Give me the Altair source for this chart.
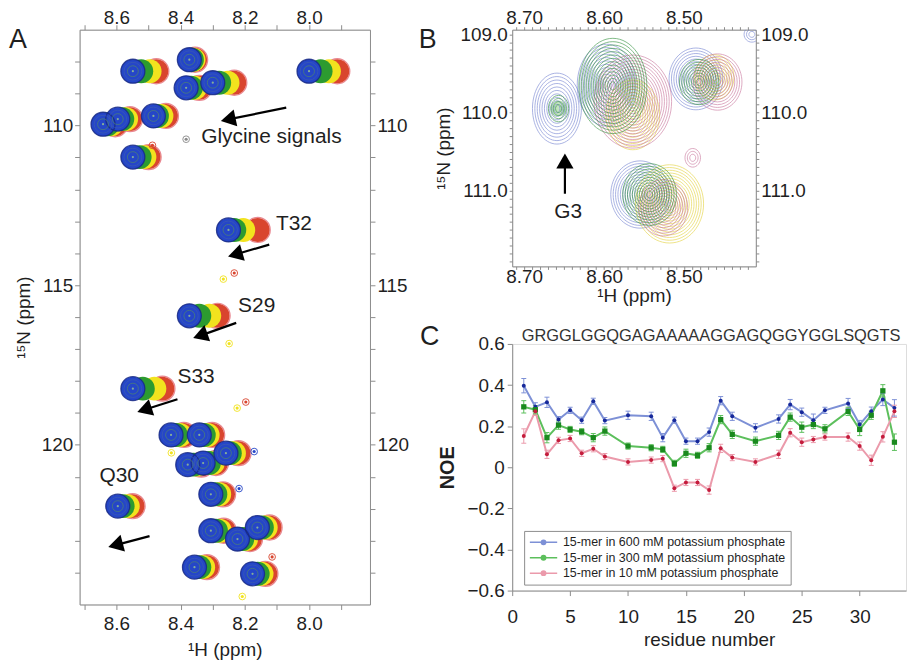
import altair as alt
import pandas as pd

FONT = "Liberation Sans"
TXT = "#1f1f1f"
FRAME = "#8c8c8c"

# ======================= Panel A : HSQC overlay =======================
A_N = [108.30, 107.94, 108.82, 108.66, 108.30, 109.96, 109.80, 109.70, 110.99,
       113.27, 115.96, 118.24, 121.92,
       119.69, 119.69, 120.26, 120.62, 120.57, 121.55, 122.69, 122.95, 122.59, 123.83, 124.04]
A_H_blue = [8.549, 8.373, 8.383, 8.300, 8.000, 8.642, 8.596, 8.485, 8.549,
            8.251, 8.373, 8.549, 8.596,
            8.430, 8.342, 8.259, 8.378, 8.330, 8.306, 8.306, 8.223, 8.161, 8.357, 8.176]
A_H_green = [8.523, 8.365, 8.368, 8.280, 7.964, 8.628, 8.582, 8.474, 8.528,
             8.233, 8.342, 8.518, 8.581,
             8.415, 8.328, 8.247, 8.360, 8.312, 8.292, 8.290, 8.208, 8.147, 8.342, 8.160]
A_H_yellow = [8.497, 8.360, 8.355, 8.254, 7.938, 8.616, 8.570, 8.460, 8.513,
              8.205, 8.311, 8.482, 8.565,
              8.402, 8.316, 8.234, 8.348, 8.300, 8.280, 8.278, 8.196, 8.135, 8.330, 8.148]
A_H_red = [8.476, 8.355, 8.342, 8.233, 7.912, 8.604, 8.558, 8.446, 8.500,
           8.160, 8.285, 8.457, 8.550,
           8.390, 8.302, 8.220, 8.336, 8.290, 8.268, 8.266, 8.184, 8.123, 8.318, 8.136]

A_small_H = [8.197, 8.224, 8.249, 8.115, 8.171, 8.208, 8.383, 8.267, 8.233, 8.488, 8.218, 8.429]
A_small_N = [118.66, 118.85, 116.83, 123.51, 120.21, 124.75, 110.43, 114.81, 114.62, 110.62, 121.37, 120.25]
A_small_cond = ["red", "yellow", "yellow", "red", "blue", "yellow", "gray", "yellow", "red", "red", "blue", "yellow"]

A_label_text = ["Glycine signals", "T32", "S29", "S33", "Q30"]
A_label_H = [8.336, 8.103, 8.221, 8.410, 8.653]
A_label_N = [110.37, 113.10, 115.65, 117.89, 120.99]

A_arrow_tail_H = [8.071, 8.124, 8.227, 8.410, 8.497]
A_arrow_tail_N = [109.44, 113.73, 116.18, 118.57, 122.86]
A_arrow_head_H = [8.252, 8.230, 8.339, 8.513, 8.603]
A_arrow_head_N = [109.81, 114.04, 116.58, 118.90, 123.14]
A_arrow_angle = [258, 254, 251, 252, 255]

A_xticks = [7.9, 8.0, 8.1, 8.2, 8.3, 8.4, 8.5, 8.6, 8.7]
A_yticks = [108, 109, 110, 111, 112, 113, 114, 115, 116, 117, 118, 119, 120, 121, 122, 123, 124]

# ======================= Panel B : glycine region zoom =======================
B_H = [8.659, 8.657, 8.597, 8.589, 8.564, 8.564, 8.485, 8.481, 8.462, 8.458,
       8.555, 8.543, 8.518, 8.526, 8.489, 8.415]
B_N = [109.95, 109.95, 109.65, 109.66, 109.86, 110.03, 109.57, 109.61, 109.55, 109.61,
       111.05, 111.05, 111.17, 111.22, 110.58, 109.00]
B_cond = ["blue", "green", "blue", "green", "red", "yellow", "blue", "green", "yellow", "red",
          "blue", "green", "yellow", "red", "red", "blue"]
B_levels = [7, 3, 9, 10, 12, 8, 8, 6, 6, 7, 9, 8, 10, 7, 2, 2]
B_elong = [1.45, 1.3, 1.4, 1.4, 1.2, 1.3, 1.15, 1.15, 1.15, 1.15, 1.15, 1.15, 1.15, 1.15, 1.2, 1.0]

B_arrow_H = [8.649]
B_arrow_tail_N = [111.04]
B_arrow_head_N = [110.62]
B_label_text = ["G3"]
B_label_H = [8.645]
B_label_N = [111.27]

B_xticks = [round(8.42 + 0.01 * i, 2) for i in range(30)]
B_yticks = [round(109.0 + 0.1 * i, 1) for i in range(30)]

# ======================= Panel C : heteronuclear NOE =======================
sequence = "GRGGLGGQGAGAAAAAGGAGQGGYGGLSQGTS"
residues = [1, 2, 3, 4, 5, 6, 7, 8, 10, 12, 13, 14, 15, 16, 17, 18, 19, 21, 23, 24, 25, 26, 27, 29, 30, 31, 32, 33]
noe_600 = [0.397, 0.294, 0.316, 0.232, 0.277, 0.229, 0.321, 0.227, 0.253, 0.248, 0.144, 0.229, 0.127, 0.127,
           0.171, 0.324, 0.248, 0.192, 0.235, 0.305, 0.268, 0.229, 0.277, 0.310, 0.208, 0.273, 0.330, 0.289]
noe_300 = [0.294, 0.280, 0.144, 0.205, 0.184, 0.173, 0.144, 0.176, 0.103, 0.095, 0.087, 0.019, 0.068, 0.058,
           0.095, 0.232, 0.160, 0.127, 0.155, 0.244, 0.195, 0.208, 0.187, 0.272, 0.184, 0.253, 0.372, 0.122]
noe_10 = [0.152, 0.272, 0.063, 0.131, 0.140, 0.068, 0.090, 0.052, 0.026, 0.035, 0.042, -0.102, -0.074, -0.074,
          -0.111, 0.092, 0.047, 0.026, 0.063, 0.168, 0.122, 0.135, 0.147, 0.147, 0.103, 0.034, 0.148, 0.272]
err_600 = [0.035, 0.02, 0.025, 0.015, 0.015, 0.015, 0.015, 0.015, 0.02, 0.02, 0.02, 0.015, 0.015, 0.015,
           0.02, 0.02, 0.02, 0.02, 0.02, 0.025, 0.02, 0.03, 0.015, 0.025, 0.02, 0.02, 0.03, 0.04]
err_300 = [0.03, 0.02, 0.025, 0.02, 0.015, 0.015, 0.02, 0.02, 0.015, 0.015, 0.015, 0.015, 0.02, 0.015,
           0.02, 0.02, 0.02, 0.02, 0.02, 0.02, 0.025, 0.02, 0.02, 0.02, 0.03, 0.02, 0.03, 0.04]
err_10 = [0.035, 0.02, 0.02, 0.015, 0.015, 0.015, 0.015, 0.015, 0.015, 0.015, 0.015, 0.015, 0.015, 0.015,
          0.02, 0.02, 0.015, 0.015, 0.02, 0.02, 0.02, 0.015, 0.015, 0.02, 0.02, 0.025, 0.025, 0.03]
series_names = ["15-mer in 600 mM potassium phosphate",
                "15-mer in 300 mM potassium phosphate",
                "15-mer in 10 mM potassium phosphate"]
C_xticks = [0, 5, 10, 15, 20, 25, 30]
C_yticks = [-0.6, -0.4, -0.2, 0, 0.2, 0.4, 0.6]

# ----------------------------------------------------------------------
COND = ["red", "yellow", "green", "blue", "gray"]
A_FILL = ["#d9452e", "#f2e31e", "#2c9b30", "#2546c8", "#8a8a8a"]
B_LINE = ["#c7739a", "#e3d23a", "#2f8f3a", "#7181d0", "#8a8a8a"]
LINE_COL = ["#7d90d6", "#5cbf5c", "#eb9aab"]
MARK_COL = ["#16289a", "#1a8a1e", "#c41c3c"]
MARK_SHAPE = ["circle", "square", "circle"]
MARK_SIZE = [16, 28, 16]


def mk_axis(orient, values, expr, title=None, tick=5, size=19, lpad=2, tpad=6):
    return alt.Axis(orient=orient, values=values, labelExpr=expr, title=title, tickSize=tick,
                    grid=False, labelFont=FONT, labelFontSize=size, labelColor=TXT,
                    tickColor=FRAME, domainColor=FRAME, titleFont=FONT, titleFontSize=19,
                    titleFontWeight="normal", titleColor=TXT, labelPadding=lpad, titlePadding=tpad,
                    labelFlush=False, labelOverlap=False)


def letter(ch, dx, dy):
    return alt.Chart(pd.DataFrame({"t": [ch]})).mark_text(
        font=FONT, fontSize=27, color=TXT, align="center", baseline="middle"
    ).encode(text="t:N", x=alt.value(dx), y=alt.value(dy))


# ---------------- Panel A build ----------------
rows = []
for cond, hs in zip(COND, [A_H_red, A_H_yellow, A_H_green, A_H_blue]):
    for h, n in zip(hs, A_N):
        rows.append({"H": h, "N": n, "cond": cond})
blobsA = pd.DataFrame(rows)
blueA = pd.DataFrame({"H": A_H_blue, "N": A_N})
redA = pd.DataFrame({"H": A_H_red, "N": A_N})
smallA = pd.DataFrame({"H": A_small_H, "N": A_small_N, "cond": A_small_cond})
labelsA = pd.DataFrame({"H": A_label_H, "N": A_label_N, "t": A_label_text})
arrowsA = pd.DataFrame({"H": A_arrow_tail_H, "N": A_arrow_tail_N,
                        "H2": A_arrow_head_H, "N2": A_arrow_head_N, "ang": A_arrow_angle})

xsA = alt.Scale(domain=[7.81, 8.715], reverse=True, nice=False, zero=False)
ysA = alt.Scale(domain=[107.0, 125.0], reverse=True, nice=False, zero=False)


def XA(f="H", axis=None):
    return alt.X(f + ":Q", scale=xsA, axis=axis)


def YA(f="N", axis=None):
    return alt.Y(f + ":Q", scale=ysA, axis=axis)


condA_color = alt.Color("cond:N", scale=alt.Scale(domain=COND, range=A_FILL), legend=None)

a_red_ring = alt.Chart(redA).mark_point(filled=False, size=640, strokeWidth=1.2, color="#e77b86", opacity=0.9
                                        ).encode(x=XA(), y=YA())
a_blobs = alt.Chart(blobsA).mark_circle(size=580, opacity=1).encode(x=XA(), y=YA(), color=condA_color)
a_out = alt.Chart(blueA).mark_point(filled=False, size=580, strokeWidth=1.3, color="#182a86", opacity=0.85
                                    ).encode(x=XA(), y=YA())
a_in1 = alt.Chart(blueA).mark_point(filled=False, size=320, strokeWidth=0.8, color="#3f5fae", opacity=0.8
                                    ).encode(x=XA(), y=YA())
a_in2 = alt.Chart(blueA).mark_point(filled=False, size=120, strokeWidth=0.9, color="#4f8570", opacity=0.8
                                    ).encode(x=XA(), y=YA())
a_dot = alt.Chart(blueA).mark_point(filled=True, size=5, color="#9cc98e", opacity=0.8).encode(x=XA(), y=YA())
a_small = alt.Chart(smallA).mark_point(filled=False, size=45, strokeWidth=1, opacity=0.9).encode(
    x=XA(), y=YA(), color=condA_color)
a_small_dot = alt.Chart(smallA).mark_point(filled=True, size=10, opacity=1).encode(
    x=XA(), y=YA(), color=condA_color)
a_arrow_line = alt.Chart(arrowsA).mark_rule(color="black", strokeWidth=2.2).encode(
    x=XA(), y=YA(), x2="H2:Q", y2="N2:Q")
a_arrow_head = alt.Chart(arrowsA).mark_point(shape="triangle-up", filled=True, size=300, color="black",
                                             opacity=1).encode(
    x=XA("H2"), y=YA("N2"), angle=alt.Angle("ang:Q", scale=None))
a_text = alt.Chart(labelsA).mark_text(font=FONT, fontSize=21, color=TXT, align="left", baseline="middle").encode(
    x=XA(), y=YA(), text="t:N")

ax_xA = "abs(round(datum.value*10)) % 2 == 0 ? format(datum.value, '.1f') : ''"
ax_yA = "datum.value % 5 == 0 ? format(datum.value, 'd') : ''"
a_axes1 = alt.Chart(blueA).mark_point(opacity=0).encode(
    x=XA(axis=mk_axis("bottom", A_xticks, ax_xA, "\u00b9H  (ppm)", lpad=5, tpad=7)),
    y=YA(axis=mk_axis("left", A_yticks, ax_yA, "\u00b9\u2075N  (ppm)", tpad=8)))
a_axes2 = alt.Chart(blueA).mark_point(opacity=0).encode(
    x=XA(axis=mk_axis("top", A_xticks, ax_xA, lpad=-3)),
    y=YA(axis=mk_axis("right", A_yticks, ax_yA)))

panelA = alt.layer(a_axes1, a_axes2, a_red_ring, a_blobs, a_out, a_in1, a_in2, a_dot, a_small, a_small_dot,
                   a_arrow_line, a_arrow_head, a_text, letter("A", -62, 10)
                   ).resolve_axis(x="independent", y="independent").properties(width=292, height=578)


# ---------------- Panel B build ----------------
def ellipse_path(a):
    k = 0.5523
    return (f"M0,{-a:.3f} C{k},{-a:.3f} 1,{-k * a:.3f} 1,0 C1,{k * a:.3f} {k},{a:.3f} 0,{a:.3f} "
            f"C{-k},{a:.3f} -1,{k * a:.3f} -1,0 C-1,{-k * a:.3f} {-k},{-a:.3f} 0,{-a:.3f} Z")


draw_order = ["blue", "yellow", "red", "green"]
rowsB = []
for cond in draw_order:
    for h, n, c, lv, el in zip(B_H, B_N, B_cond, B_levels, B_elong):
        if c != cond:
            continue
        outer = 1.5 + 3.3 * lv
        r = 3.0
        while r <= outer:
            rowsB.append({"H": h, "N": n, "cond": c, "sz": 4 * r * r, "shp": ellipse_path(el)})
            r += 2.4
ringsB = pd.DataFrame(rowsB)
arrowB = pd.DataFrame({"H": B_arrow_H, "N": B_arrow_tail_N, "N2": B_arrow_head_N, "ang": [0]})
labelB = pd.DataFrame({"H": B_label_H, "N": B_label_N, "t": B_label_text})

xsB = alt.Scale(domain=[8.41, 8.715], reverse=True, nice=False, zero=False)
ysB = alt.Scale(domain=[108.94, 111.97], reverse=True, nice=False, zero=False)


def XB(f="H", axis=None):
    return alt.X(f + ":Q", scale=xsB, axis=axis)


def YB(f="N", axis=None):
    return alt.Y(f + ":Q", scale=ysB, axis=axis)


b_rings = alt.Chart(ringsB).mark_point(filled=False, strokeWidth=0.8, opacity=0.75, clip=True).encode(
    x=XB(), y=YB(),
    color=alt.Color("cond:N", scale=alt.Scale(domain=COND, range=B_LINE), legend=None),
    size=alt.Size("sz:Q", scale=None), shape=alt.Shape("shp:N", scale=None))
b_fill = alt.Chart(pd.DataFrame({"H": [B_H[1]], "N": [B_N[1]]})).mark_point(
    filled=True, size=260, color="#a9d9a4", opacity=0.7).encode(x=XB(), y=YB())
b_arrow_line = alt.Chart(arrowB).mark_rule(color="black", strokeWidth=2.2).encode(
    x=XB(), y=YB(), y2="N2:Q")
b_arrow_head = alt.Chart(arrowB).mark_point(shape="triangle-up", filled=True, size=300, color="black",
                                            opacity=1).encode(
    x=XB(), y=YB("N2"), angle=alt.Angle("ang:Q", scale=None))
b_text = alt.Chart(labelB).mark_text(font=FONT, fontSize=21, color=TXT, align="center", baseline="middle").encode(
    x=XB(), y=YB(), text="t:N")
ax_xB = "abs(round(datum.value*100)) % 10 == 0 ? format(datum.value, '.2f') : ''"
ax_yB = "abs(round(datum.value*10)) % 10 == 0 ? format(datum.value, '.1f') : ''"
b_axes1 = alt.Chart(labelB).mark_point(opacity=0).encode(
    x=XB(axis=mk_axis("bottom", B_xticks, ax_xB, "\u00b9H  (ppm)", tick=3, lpad=-2, tpad=0)),
    y=YB(axis=mk_axis("left", B_yticks, ax_yB, "\u00b9\u2075N  (ppm)", tick=3, tpad=6)))
b_axes2 = alt.Chart(labelB).mark_point(opacity=0).encode(
    x=XB(axis=mk_axis("top", B_xticks, ax_xB, tick=3, lpad=-1)),
    y=YB(axis=mk_axis("right", B_yticks, ax_yB, tick=3)))

panelB = alt.layer(b_axes1, b_axes2, b_fill, b_rings, b_arrow_line, b_arrow_head, b_text, letter("B", -85, 10)
                   ).resolve_axis(x="independent", y="independent").properties(width=245, height=238)

# ---------------- Panel C build ----------------
rowsC = []
for name, vals, errs, shp, msz in zip(series_names, [noe_600, noe_300, noe_10], [err_600, err_300, err_10],
                                      MARK_SHAPE, MARK_SIZE):
    for r, v, e in zip(residues, vals, errs):
        rowsC.append({"res": r, "noe": v, "lo": v - e, "hi": v + e, "series": name, "shp": shp, "msz": msz})
dfC = pd.DataFrame(rowsC)

xsC = alt.Scale(domain=[0, 34], nice=False, zero=False)
ysC = alt.Scale(domain=[-0.6, 0.6], nice=False, zero=False)
legend_path = ("M-2.5,0L2.5,0M0.4,0C0.4,0.22 0.22,0.4 0,0.4C-0.22,0.4 -0.4,0.22 -0.4,0"
               "C-0.4,-0.22 -0.22,-0.4 0,-0.4C0.22,-0.4 0.4,-0.22 0.4,0Z")
legC = dict(orient="none", legendX=12, legendY=188, title=None, fillColor="white", strokeColor=FRAME,
            padding=5, labelFont=FONT, labelFontSize=12.5, labelColor=TXT, symbolType=legend_path,
            symbolSize=121, symbolStrokeWidth=1.5, symbolOffset=8, labelOffset=13, rowPadding=2.5,
            labelLimit=400)
line_color = alt.Color("series:N", scale=alt.Scale(domain=series_names, range=LINE_COL),
                       legend=alt.Legend(**legC))

c_line = alt.Chart(dfC).mark_line(strokeWidth=2).encode(
    x=alt.X("res:Q", scale=xsC,
            axis=alt.Axis(values=C_xticks, format="d", title="residue number", tickSize=5, grid=False,
                          labelFont=FONT, labelFontSize=19, labelColor=TXT, tickColor=FRAME,
                          domainColor=FRAME, titleFont=FONT, titleFontSize=19, titleFontWeight="normal",
                          titleColor=TXT, labelPadding=12, titlePadding=4, labelFlush=False)),
    y=alt.Y("noe:Q", scale=ysC,
            axis=alt.Axis(values=C_yticks, format=".1~f", title="NOE", tickSize=5, grid=False,
                          labelFont=FONT, labelFontSize=19, labelColor=TXT, tickColor=FRAME,
                          domainColor=FRAME, titleFont=FONT, titleFontSize=20, titleFontWeight="bold",
                          titleColor=TXT, labelPadding=3, titlePadding=10, labelFlush=False)),
    color=line_color, detail="series:N")
c_err = alt.Chart(dfC).mark_rule(strokeWidth=1).encode(
    x=alt.X("res:Q", scale=xsC), y=alt.Y("lo:Q", scale=ysC), y2="hi:Q", color=line_color)
c_cap_lo = alt.Chart(dfC).mark_tick(orient="horizontal", size=5, thickness=1, opacity=1).encode(
    x=alt.X("res:Q", scale=xsC), y=alt.Y("lo:Q", scale=ysC), color=line_color)
c_cap_hi = alt.Chart(dfC).mark_tick(orient="horizontal", size=5, thickness=1, opacity=1).encode(
    x=alt.X("res:Q", scale=xsC), y=alt.Y("hi:Q", scale=ysC), color=line_color)
c_pts = alt.Chart(dfC).mark_point(filled=True, opacity=1).encode(
    x=alt.X("res:Q", scale=xsC), y=alt.Y("noe:Q", scale=ysC),
    fill=alt.Fill("series:N", scale=alt.Scale(domain=series_names, range=MARK_COL), legend=alt.Legend(**legC)),
    shape=alt.Shape("shp:N", scale=None),
    size=alt.Size("msz:Q", scale=None))
c_seq = alt.Chart(pd.DataFrame({"t": [sequence]})).mark_text(
    font=FONT, fontSize=16.5, color="#333", align="center", baseline="alphabetic"
).encode(text="t:N", x=alt.value(200), y=alt.value(-3))

panelC = alt.layer(c_line, c_err, c_cap_lo, c_cap_hi, c_pts, c_seq, letter("C", -83, -7)).properties(
    width=396, height=248)

right_col = alt.vconcat(panelB, panelC, spacing=16).resolve_scale(
    color="independent", fill="independent", shape="independent", size="independent")

chart = alt.hconcat(panelA, right_col, spacing=8).resolve_scale(
    color="independent", fill="independent", shape="independent", size="independent"
).properties(
    padding={"left": 0, "top": -2, "right": 0, "bottom": 0}
).configure_view(stroke=FRAME, strokeWidth=1.2).configure(font=FONT)

chart.save("out.html", embed_options={"renderer": "svg", "actions": False})
